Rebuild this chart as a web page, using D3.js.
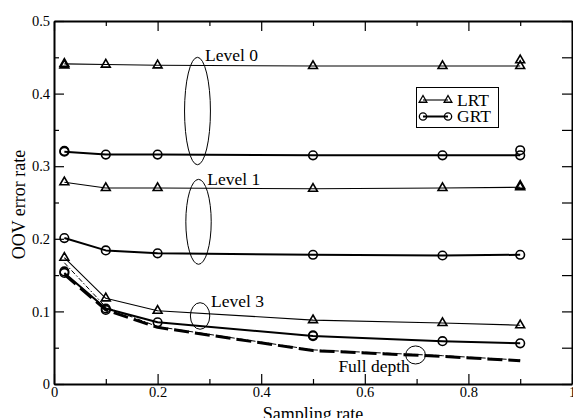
<!DOCTYPE html>
<html><head><meta charset="utf-8">
<script src="https://cdn.jsdelivr.net/npm/d3@7"></script>
<style>
html,body{margin:0;padding:0;background:#fff;}
svg{display:block;}
svg text{font-family:'Liberation Serif','DejaVu Serif',serif !important;fill:#000;}
</style>
</head><body>
<svg id="chart" width="573" height="418"></svg>
<script>
// ---- data ----
const samplingRates = [0.02, 0.1, 0.2, 0.5, 0.75, 0.9];
const level0LRT = [0.441, 0.440, 0.439, 0.438, 0.438, 0.438];
const level0GRT = [0.320, 0.316, 0.316, 0.315, 0.315, 0.315];
const level1LRT = [0.278, 0.270, 0.270, 0.269, 0.270, 0.271];
const level1GRT = [0.201, 0.184, 0.180, 0.178, 0.177, 0.178];
const level3LRT = [0.174, 0.118, 0.101, 0.088, 0.084, 0.081];
const level3GRT = [0.153, 0.104, 0.085, 0.066, 0.059, 0.056];
const fullDepthGRT = [0.151, 0.102, 0.078, 0.046, 0.038, 0.032];
const fullDepthLRT = [0.167, 0.106, 0.079, 0.047, 0.039, 0.033];
// overlapping repeated markers
const extraLRTx = [0.9, 0.02, 0.9];
const extraLRTy = [0.446, 0.439, 0.273];
const extraGRTx = [0.9, 0.02, 0.1, 0.5, 0.02];
const extraGRTy = [0.322, 0.321, 0.102, 0.067, 0.155];
const xMajorTicks = [0, 0.2, 0.4, 0.6, 0.8, 1];
const xMinorTicks = [0.1, 0.3, 0.5, 0.7, 0.9];
const yMajorTicks = [0, 0.1, 0.2, 0.3, 0.4, 0.5];
const yMinorTicks = [0.05, 0.15, 0.25, 0.35, 0.45];
const legendLabels = ["LRT", "GRT"];
const annotLabels = ["Level 0", "Level 1", "Level 3", "Full depth"];
const annotLabelX = [0.2915, 0.296, 0.303, 0.549];
const annotLabelY = [0.4453, 0.274, 0.1056, 0.017];
const ellipseCx = [0.277, 0.279, 0.282, 0.698];
const ellipseCy = [0.376, 0.2234, 0.0937, 0.040];
const ellipseRx = [0.025, 0.0245, 0.0187, 0.019];
const ellipseRy = [0.074, 0.0585, 0.0183, 0.0124];

// ---- layout ----
const FONT = "'Liberation Serif','DejaVu Serif',serif";
const svg = d3.select("#chart");
const L = 54, R = 572, T = 21, B = 384;
const x = d3.scaleLinear().domain([0, 1]).range([L, R]);
const y = d3.scaleLinear().domain([0, 0.5]).range([B, T]);
const fmt = d3.format("~g");

function styleAxis(g) {
  g.attr("font-family", FONT);
  g.selectAll("path.domain").attr("stroke", "#000").attr("stroke-width", 2);
  g.selectAll(".tick line").attr("stroke", "#000").attr("stroke-width", 1.2);
  g.selectAll("text").attr("font-size", "14.5px").style("font-family", FONT);
}

// bottom
svg.append("g").attr("transform", `translate(0,${B})`)
  .call(d3.axisBottom(x).tickValues(xMinorTicks).tickSize(-5).tickFormat("").tickSizeOuter(0))
  .call(g => g.select(".domain").remove()).call(styleAxis);
svg.append("g").attr("transform", `translate(0,${B})`)
  .call(d3.axisBottom(x).tickValues(xMajorTicks).tickSize(-10).tickPadding(3).tickFormat(fmt).tickSizeOuter(0))
  .call(styleAxis);
// top
svg.append("g").attr("transform", `translate(0,${T})`)
  .call(d3.axisTop(x).tickValues(xMinorTicks).tickSize(-5).tickFormat("").tickSizeOuter(0))
  .call(g => g.select(".domain").remove()).call(styleAxis);
svg.append("g").attr("transform", `translate(0,${T})`)
  .call(d3.axisTop(x).tickValues(xMajorTicks).tickSize(-10).tickFormat("").tickSizeOuter(0))
  .call(styleAxis);
// left
svg.append("g").attr("transform", `translate(${L},0)`)
  .call(d3.axisLeft(y).tickValues(yMinorTicks).tickSize(-5).tickFormat("").tickSizeOuter(0))
  .call(g => g.select(".domain").remove()).call(styleAxis);
svg.append("g").attr("transform", `translate(${L},0)`)
  .call(d3.axisLeft(y).tickValues(yMajorTicks).tickSize(-10).tickPadding(4).tickFormat(fmt).tickSizeOuter(0))
  .call(styleAxis);
// right
svg.append("g").attr("transform", `translate(${R},0)`)
  .call(d3.axisRight(y).tickValues(yMajorTicks.concat(yMinorTicks)).tickSize(-10).tickFormat("").tickSizeOuter(0))
  .call(styleAxis);

// axis titles
svg.append("text").attr("x", x(0.5)).attr("y", 420).attr("text-anchor", "middle")
  .attr("font-size", "18px").style("font-family", FONT).text("Sampling rate");
svg.append("text").attr("transform", `translate(25,${(T + B) / 2 + 2}) rotate(-90)`)
  .attr("text-anchor", "middle").attr("font-size", "18px").style("font-family", FONT).text("OOV error rate");

// ---- series ----
const line = d3.line().x(d => x(d[0])).y(d => y(d[1]));
const zip = vals => samplingRates.map((r, i) => [r, vals[i]]);

function drawLine(vals, width, dash) {
  svg.append("path").datum(zip(vals)).attr("d", line)
    .attr("fill", "none").attr("stroke", "#000").attr("stroke-width", width)
    .attr("stroke-dasharray", dash || null).attr("stroke-linejoin", "round");
}
const triSym = d3.symbol().type(d3.symbolTriangle).size(34);
const cirSym = d3.symbol().type(d3.symbolCircle).size(58);
function drawMarkers(pts, sym) {
  svg.append("g").selectAll("path").data(pts).join("path")
    .attr("d", sym).attr("transform", d => `translate(${x(d[0])},${y(d[1])})`)
    .attr("fill", "none").attr("stroke", "#000").attr("stroke-width", 1.6);
}

// full depth (dashed)
drawLine(fullDepthLRT, 1, "5,2,1.5,2");
drawLine(fullDepthGRT, 3, "15,6");

// LRT thin, GRT thick
[level0LRT, level1LRT, level3LRT].forEach(v => drawLine(v, 1.1));
[level0GRT, level1GRT, level3GRT].forEach(v => drawLine(v, 2));
[level0LRT, level1LRT, level3LRT].forEach(v => drawMarkers(zip(v), triSym));
[level0GRT, level1GRT, level3GRT].forEach(v => drawMarkers(zip(v), cirSym));
drawMarkers(extraLRTx.map((r, i) => [r, extraLRTy[i]]), triSym);
drawMarkers(extraGRTx.map((r, i) => [r, extraGRTy[i]]), cirSym);

// ---- annotations ----
svg.append("g").selectAll("ellipse").data(ellipseCx).join("ellipse")
  .attr("cx", d => x(d)).attr("cy", (d, i) => y(ellipseCy[i]))
  .attr("rx", (d, i) => x(ellipseRx[i]) - x(0)).attr("ry", (d, i) => y(0) - y(ellipseRy[i]))
  .attr("fill", "none").attr("stroke", "#000").attr("stroke-width", 1);
svg.append("g").selectAll("text").data(annotLabels).join("text")
  .attr("x", (d, i) => x(annotLabelX[i])).attr("y", (d, i) => y(annotLabelY[i]))
  .attr("font-size", "17.5px").style("font-family", FONT).text(d => d);

// ---- legend ----
const lg = svg.append("g");
lg.append("rect").attr("x", 416.5).attr("y", 87.5).attr("width", 82).attr("height", 40)
  .attr("fill", "#fff").attr("stroke", "#000").attr("stroke-width", 1);
const legSyms = [d3.symbol().type(d3.symbolTriangle).size(26), d3.symbol().type(d3.symbolCircle).size(42)];
legendLabels.forEach((lab, i) => {
  const yy = 100 + i * 16.5;
  lg.append("line").attr("x1", 423).attr("x2", 448).attr("y1", yy).attr("y2", yy)
    .attr("stroke", "#000").attr("stroke-width", i === 0 ? 1.1 : 2);
  [423, 448].forEach(xx => lg.append("path").attr("d", legSyms[i])
    .attr("transform", `translate(${xx},${yy})`).attr("fill", "none").attr("stroke", "#000").attr("stroke-width", 1.3));
  lg.append("text").attr("x", 457).attr("y", yy + 5.5).attr("font-size", "17.5px").style("font-family", FONT).text(lab);
});
</script>
</body></html>
